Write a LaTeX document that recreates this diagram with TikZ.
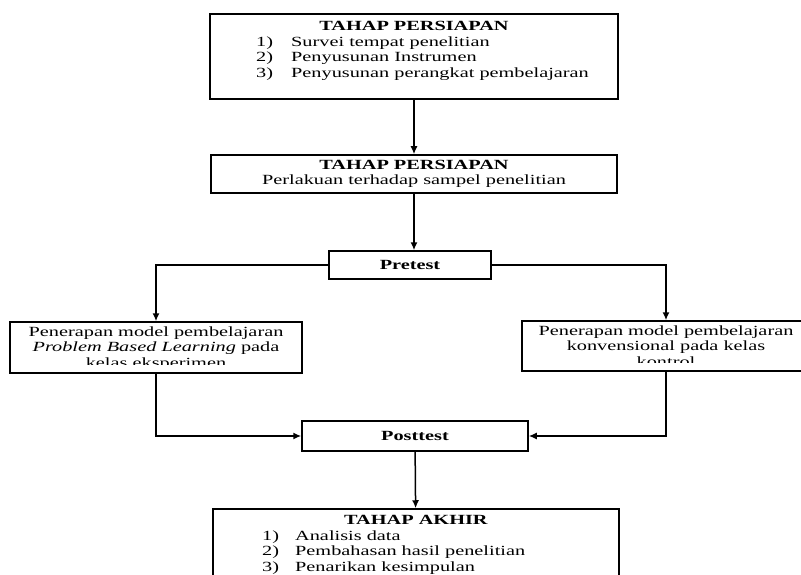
\documentclass[tikz,border=0pt]{standalone}
\usepackage{fontspec}
\setmainfont{Liberation Serif}[FakeStretch=1.45]
\usetikzlibrary{arrows.meta}

\tikzset{
    box/.style={draw, line width=1.5pt, inner sep=0pt},
    flow/.style={line width=1.5pt, -{Latex[length=8pt,width=7pt]}},
}

\begin{document}
\begin{tikzpicture}[x=1pt, y=-1pt, font=\fontsize{14}{15.5}\selectfont]
    \useasboundingbox (0,0) rectangle (801,575);
    \clip (0,0) rectangle (801,575);

    % tahap persiapan
    \node[box, minimum width=408pt, minimum height=85pt] (prep) at (414,56.5) {};
    \node[inner sep=0pt] (preptitle) at (414,26) {\textbf{TAHAP PERSIAPAN}};
    \node[anchor=north west, inner sep=0pt] (preplist) at (256,35) {%
        \begin{tabular}{@{}p{35pt}@{}l@{}}
            1) & Survei tempat penelitian\\
            2) & Penyusunan Instrumen\\
            3) & Penyusunan perangkat pembelajaran
        \end{tabular}};

    % perlakuan
    \node[box, minimum width=406pt, minimum height=38pt, align=center] (treat) at (414,174)
        {\textbf{TAHAP PERSIAPAN}\\Perlakuan terhadap sampel penelitian};

    \node[box, minimum width=162pt, minimum height=28pt] (pretest) at (410,265) {\textbf{Pretest}};

    % kelas eksperimen / kontrol
    \node[box, minimum width=292pt, minimum height=51pt] (pbl) at (156,347.5) {};
    \begin{scope}
        \clip (pbl.north west) rectangle ([yshift=9pt]pbl.south east);
        \node[anchor=north, align=center, inner sep=0pt] (pbltext) at ([yshift=-5pt]pbl.north)
            {Penerapan model pembelajaran\\\textit{Problem Based Learning} pada\\kelas eksperimen};
    \end{scope}

    \node[box, minimum width=288pt, minimum height=50pt] (conv) at (666,346) {};
    \begin{scope}
        \clip (conv.north west) rectangle ([yshift=9pt]conv.south east);
        \node[anchor=north, align=center, inner sep=0pt] (convtext) at ([yshift=-5pt]conv.north)
            {Penerapan model pembelajaran\\konvensional pada kelas\\kontrol};
    \end{scope}

    \node[box, minimum width=226pt, minimum height=30pt] (posttest) at (415,436) {\textbf{Posttest}};

    % tahap akhir
    \node[box, minimum width=406pt, minimum height=95pt] (akhir) at (416,556.5) {};
    \node[inner sep=0pt] (akhirtitle) at (416,520) {\textbf{TAHAP AKHIR}};
    \node[anchor=north west, inner sep=0pt] (akhirlist) at (262,529) {%
        \begin{tabular}{@{}p{33pt}@{}l@{}}
            1) & Analisis data\\
            2) & Pembahasan hasil penelitian\\
            3) & Penarikan kesimpulan
        \end{tabular}};

    % alur
    \draw[flow] (prep) -- (treat);
    \draw[flow] (treat.south) -- (treat.south |- pretest.north);
    \draw[flow] (pretest.west) -| (pbl.north);
    \draw[flow] (pretest.east) -| (conv.north);
    \draw[flow] (pbl.south) |- (posttest.west);
    \draw[flow] (conv.south) |- (posttest.east);
    \draw[flow] (posttest) -- (akhir);
\end{tikzpicture}
\end{document}
